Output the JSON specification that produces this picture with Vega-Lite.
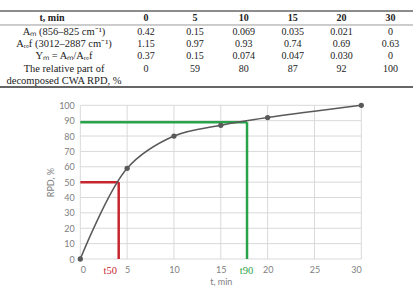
{
  "$schema": "https://vega.github.io/schema/vega-lite/v6.json",
  "width": 413,
  "height": 294,
  "autosize": {"type": "none"},
  "padding": 0,
  "background": "white",
  "config": {
    "view": {"stroke": null},
    "axis": {
      "grid": false, "ticks": false, "domain": false,
      "labelColor": "#808080", "labelFont": "Lato", "labelFontSize": 9,
      "titleFont": "Lato", "titleFontSize": 9, "titleFontWeight": "normal", "titleColor": "#808080",
      "labelPadding": 6
    },
    "axisX": {"offset": -35, "titlePadding": 3},
    "axisY": {"offset": -80.3, "titlePadding": 3}
  },
  "datasets": {
    "rpd": [
      {"t": 0, "rpd": 0}, {"t": 5, "rpd": 59}, {"t": 10, "rpd": 80},
      {"t": 15, "rpd": 87}, {"t": 20, "rpd": 92}, {"t": 30, "rpd": 100}
    ],
    "marks": [
      {"label": "t50", "t": 4.1, "rpd": 50, "lt": 3.2},
      {"label": "t90", "t": 17.8, "rpd": 89, "lt": 17.75}
    ],
    "xticks": [{"t": 0}, {"t": 5}, {"t": 10}, {"t": 15}, {"t": 20}, {"t": 25}, {"t": 30}],
    "yticks": [{"v": 0}, {"v": 10}, {"v": 20}, {"v": 30}, {"v": 40}, {"v": 50}, {"v": 60}, {"v": 70}, {"v": 80}, {"v": 90}, {"v": 100}],
    "rules": [
      {"kind": "top", "pos": -0.784},
      {"kind": "head", "pos": 0.351},
      {"kind": "bottom", "pos": 5.378}
    ],
    "table": [
      {"r": "0", "c": "label", "v": "t, min"}, {"r": "0", "c": "0", "v": "0"}, {"r": "0", "c": "5", "v": "5"}, {"r": "0", "c": "10", "v": "10"}, {"r": "0", "c": "15", "v": "15"}, {"r": "0", "c": "20", "v": "20"}, {"r": "0", "c": "30", "v": "30"},
      {"r": "1", "c": "label", "v": "Aₘ (856–825 cm⁻¹)"}, {"r": "1", "c": "0", "v": "0.42"}, {"r": "1", "c": "5", "v": "0.15"}, {"r": "1", "c": "10", "v": "0.069"}, {"r": "1", "c": "15", "v": "0.035"}, {"r": "1", "c": "20", "v": "0.021"}, {"r": "1", "c": "30", "v": "0"},
      {"r": "2", "c": "label", "v": "Aᵣₑf (3012–2887 cm⁻¹)"}, {"r": "2", "c": "0", "v": "1.15"}, {"r": "2", "c": "5", "v": "0.97"}, {"r": "2", "c": "10", "v": "0.93"}, {"r": "2", "c": "15", "v": "0.74"}, {"r": "2", "c": "20", "v": "0.69"}, {"r": "2", "c": "30", "v": "0.63"},
      {"r": "3", "c": "label", "v": "Yₘ = Aₘ/Aᵣₑf"}, {"r": "3", "c": "0", "v": "0.37"}, {"r": "3", "c": "5", "v": "0.15"}, {"r": "3", "c": "10", "v": "0.074"}, {"r": "3", "c": "15", "v": "0.047"}, {"r": "3", "c": "20", "v": "0.030"}, {"r": "3", "c": "30", "v": "0"},
      {"r": "4", "c": "label", "v": "The relative part of\ndecomposed CWA RPD, %"}, {"r": "4", "c": "0", "v": "0"}, {"r": "4", "c": "5", "v": "59"}, {"r": "4", "c": "10", "v": "80"}, {"r": "4", "c": "15", "v": "87"}, {"r": "4", "c": "20", "v": "92"}, {"r": "4", "c": "30", "v": "100"}
    ]
  },
  "layer": [
    {
      "data": {"name": "xticks"},
      "mark": {"type": "rule", "color": "#d9d9d9", "strokeWidth": 1},
      "encoding": {
        "x": {"field": "t", "type": "quantitative", "axis": null,
              "scale": {"domain": [0, 30], "range": [80.3, 361.3], "nice": false, "zero": false}},
        "y": {"datum": 0, "type": "quantitative", "axis": null,
              "scale": {"domain": [0, 100], "range": [259, 105.3], "nice": false}},
        "y2": {"datum": 100}
      }
    },
    {
      "data": {"name": "yticks"},
      "mark": {"type": "rule", "color": "#d9d9d9", "strokeWidth": 1},
      "encoding": {
        "x": {"datum": 0, "type": "quantitative", "axis": null,
              "scale": {"domain": [0, 30], "range": [80.3, 361.3], "nice": false, "zero": false}},
        "x2": {"datum": 30},
        "y": {"field": "v", "type": "quantitative", "axis": null,
              "scale": {"domain": [0, 100], "range": [259, 105.3], "nice": false}}
      }
    },
    {
      "data": {"name": "marks"},
      "mark": {"type": "rule", "strokeWidth": 2.5},
      "encoding": {
        "x": {"field": "t", "type": "quantitative", "axis": null,
              "scale": {"domain": [0, 30], "range": [80.3, 361.3], "nice": false, "zero": false}},
        "y": {"field": "rpd", "type": "quantitative", "axis": null,
              "scale": {"domain": [0, 100], "range": [259, 105.3], "nice": false}},
        "y2": {"datum": 0},
        "color": {"field": "label", "type": "nominal", "legend": null, "scale": {"domain": ["t50", "t90"], "range": ["#c8262f", "#27a348"]}}
      }
    },
    {
      "data": {"name": "marks"},
      "mark": {"type": "rule", "strokeWidth": 2.5},
      "encoding": {
        "x": {"field": "t", "type": "quantitative", "axis": null,
              "scale": {"domain": [0, 30], "range": [80.3, 361.3], "nice": false, "zero": false}},
        "x2": {"datum": 0},
        "y": {"field": "rpd", "type": "quantitative", "axis": null,
              "scale": {"domain": [0, 100], "range": [259, 105.3], "nice": false}},
        "color": {"field": "label", "type": "nominal", "legend": null, "scale": {"domain": ["t50", "t90"], "range": ["#c8262f", "#27a348"]}}
      }
    },
    {
      "data": {"name": "rpd"},
      "mark": {"type": "line", "interpolate": "catmull-rom", "color": "#595959", "strokeWidth": 1.5},
      "encoding": {
        "x": {"field": "t", "type": "quantitative", "title": "t, min",
              "scale": {"domain": [0, 30], "range": [80.3, 361.3], "nice": false, "zero": false},
              "axis": {"values": [0, 5, 10, 15, 20, 25, 30]}},
        "y": {"field": "rpd", "type": "quantitative", "title": "RPD, %",
              "scale": {"domain": [0, 100], "range": [259, 105.3], "nice": false},
              "axis": {"values": [0, 10, 20, 30, 40, 50, 60, 70, 80, 90, 100]}}
      }
    },
    {
      "data": {"name": "rpd"},
      "mark": {"type": "circle", "size": 28, "color": "#595959", "opacity": 1},
      "encoding": {
        "x": {"field": "t", "type": "quantitative", "axis": null,
              "scale": {"domain": [0, 30], "range": [80.3, 361.3], "nice": false, "zero": false}},
        "y": {"field": "rpd", "type": "quantitative", "axis": null,
              "scale": {"domain": [0, 100], "range": [259, 105.3], "nice": false}}
      }
    },
    {
      "data": {"name": "marks"},
      "mark": {"type": "text", "font": "Liberation Sans Narrow", "fontSize": 10.5, "baseline": "middle"},
      "encoding": {
        "x": {"field": "lt", "type": "quantitative", "axis": null,
              "scale": {"domain": [0, 30], "range": [80.3, 361.3], "nice": false, "zero": false}},
        "y": {"datum": -7.6, "type": "quantitative", "axis": null,
              "scale": {"domain": [0, 100], "range": [259, 105.3], "nice": false}},
        "text": {"field": "label"},
        "color": {"field": "label", "type": "nominal", "legend": null, "scale": {"domain": ["t50", "t90"], "range": ["#c8262f", "#27a348"]}}
      }
    },
    {
      "data": {"name": "rules"},
      "transform": [{"filter": "datum.kind == 'top'"}],
      "mark": {"type": "rule", "strokeWidth": 2, "color": "#8c8c8c"},
      "encoding": {
        "y": {"field": "pos", "type": "quantitative", "axis": null, "scale": {"domain": [1, 4], "range": [33, 70], "nice": false, "zero": false}}
      }
    },
    {
      "data": {"name": "rules"},
      "transform": [{"filter": "datum.kind == 'head'"}],
      "mark": {"type": "rule", "strokeWidth": 1, "color": "#9a9a9a"},
      "encoding": {
        "y": {"field": "pos", "type": "quantitative", "axis": null, "scale": {"domain": [1, 4], "range": [33, 70], "nice": false, "zero": false}}
      }
    },
    {
      "data": {"name": "rules"},
      "transform": [{"filter": "datum.kind == 'bottom'"}],
      "mark": {"type": "rule", "strokeWidth": 1.5, "color": "#333333"},
      "encoding": {
        "y": {"field": "pos", "type": "quantitative", "axis": null, "scale": {"domain": [1, 4], "range": [33, 70], "nice": false, "zero": false}}
      }
    },
    {
      "data": {"name": "table"},
      "transform": [{"filter": "datum.r == '0' && datum.c != 'label'"}],
      "mark": {"type": "text", "font": "Liberation Serif", "fontSize": 10, "fontWeight": "bold", "color": "#222222", "baseline": "middle", "dy": -2},
      "encoding": {
        "x": {"field": "c", "type": "ordinal", "axis": null,
              "scale": {"type": "point", "domain": ["label", "gap", "0", "5", "10", "15", "20", "30"], "range": [48.4, 390.4], "padding": 0}},
        "y": {"field": "r", "type": "ordinal", "axis": null,
              "scale": {"type": "point", "domain": ["0", "1", "2", "3", "4"], "range": [20, 68.5], "padding": 0}},
        "text": {"field": "v"}
      }
    },
    {
      "data": {"name": "table"},
      "transform": [{"filter": "datum.r == '0' && datum.c == 'label'"}],
      "mark": {"type": "text", "font": "Liberation Serif", "fontSize": 10, "fontWeight": "bold", "color": "#222222", "baseline": "middle", "dy": -2, "dx": 3.6},
      "encoding": {
        "x": {"field": "c", "type": "ordinal", "axis": null,
              "scale": {"type": "point", "domain": ["label", "gap", "0", "5", "10", "15", "20", "30"], "range": [48.4, 390.4], "padding": 0}},
        "y": {"field": "r", "type": "ordinal", "axis": null,
              "scale": {"type": "point", "domain": ["0", "1", "2", "3", "4"], "range": [20, 68.5], "padding": 0}},
        "text": {"field": "v"}
      }
    },
    {
      "data": {"name": "table"},
      "transform": [{"filter": "datum.r != '0' && datum.c != 'label'"}],
      "mark": {"type": "text", "font": "Liberation Serif", "fontSize": 10, "color": "#222222", "baseline": "middle"},
      "encoding": {
        "x": {"field": "c", "type": "ordinal", "axis": null,
              "scale": {"type": "point", "domain": ["label", "gap", "0", "5", "10", "15", "20", "30"], "range": [48.4, 390.4], "padding": 0}},
        "y": {"field": "r", "type": "ordinal", "axis": null,
              "scale": {"type": "point", "domain": ["0", "1", "2", "3", "4"], "range": [20, 68.5], "padding": 0}},
        "text": {"field": "v"}
      }
    },
    {
      "data": {"name": "table"},
      "transform": [{"filter": "datum.r != '0' && datum.r != '4' && datum.c == 'label'"}],
      "mark": {"type": "text", "font": "Liberation Serif", "fontSize": 10.5, "color": "#222222", "baseline": "middle", "dx": 15.6},
      "encoding": {
        "x": {"field": "c", "type": "ordinal", "axis": null,
              "scale": {"type": "point", "domain": ["label", "gap", "0", "5", "10", "15", "20", "30"], "range": [48.4, 390.4], "padding": 0}},
        "y": {"field": "r", "type": "ordinal", "axis": null,
              "scale": {"type": "point", "domain": ["0", "1", "2", "3", "4"], "range": [20, 68.5], "padding": 0}},
        "text": {"field": "v"}
      }
    },
    {
      "data": {"name": "table"},
      "transform": [{"filter": "datum.r == '4' && datum.c == 'label'"}],
      "mark": {"type": "text", "font": "Liberation Serif", "fontSize": 10.5, "color": "#222222", "baseline": "middle", "dx": 15.6, "dy": 0.5, "lineBreak": "\n", "lineHeight": 12},
      "encoding": {
        "x": {"field": "c", "type": "ordinal", "axis": null,
              "scale": {"type": "point", "domain": ["label", "gap", "0", "5", "10", "15", "20", "30"], "range": [48.4, 390.4], "padding": 0}},
        "y": {"field": "r", "type": "ordinal", "axis": null,
              "scale": {"type": "point", "domain": ["0", "1", "2", "3", "4"], "range": [20, 68.5], "padding": 0}},
        "text": {"field": "v"}
      }
    }
  ],
  "resolve": {"scale": {"x": "independent", "y": "independent", "color": "independent"}, "axis": {"x": "independent", "y": "independent"}}
}
